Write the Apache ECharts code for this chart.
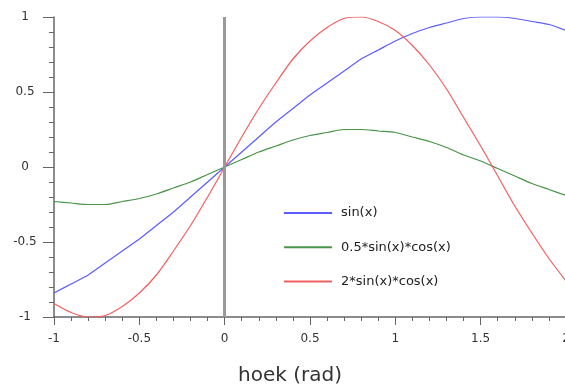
<!DOCTYPE html>
<html><head><meta charset="utf-8">
<script src="https://cdn.jsdelivr.net/npm/echarts@6/dist/echarts.min.js"></script>
<style>html,body{margin:0;padding:0;background:#fff}#c{width:565px;height:385px}</style>
</head><body><div id="c"></div>
<script>
const xs = [-1,-0.9,-0.8,-0.7,-0.6,-0.5,-0.4,-0.3,-0.2,-0.1,0,0.1,0.2,0.3,0.4,0.5,0.6,0.7,0.8,0.9,1.0,1.1,1.2,1.3,1.4,1.5,1.6,1.7,1.8,1.9,2.0];
const sinVals = [-0.84,-0.78,-0.72,-0.64,-0.56,-0.48,-0.39,-0.30,-0.20,-0.10,0,0.10,0.20,0.30,0.39,0.48,0.56,0.64,0.72,0.78,0.84,0.89,0.93,0.96,0.99,1.00,1.00,0.99,0.97,0.95,0.91];
const halfSinCos = [-0.23,-0.24,-0.25,-0.25,-0.23,-0.21,-0.18,-0.14,-0.10,-0.05,0,0.05,0.10,0.14,0.18,0.21,0.23,0.25,0.25,0.24,0.23,0.20,0.17,0.13,0.08,0.04,-0.01,-0.06,-0.11,-0.15,-0.19];
const twoSinCos = [-0.91,-0.97,-1.00,-0.99,-0.93,-0.84,-0.72,-0.56,-0.39,-0.20,0,0.20,0.39,0.56,0.72,0.84,0.93,0.99,1.00,0.97,0.91,0.81,0.68,0.52,0.33,0.14,-0.06,-0.26,-0.44,-0.61,-0.76];
const seriesNames = ['sin(x)','0.5*sin(x)*cos(x)','2*sin(x)*cos(x)'];
const xTitle = 'hoek (rad)';

const pair = ys => xs.map((x,i)=>[x,ys[i]]);
const font = 'DejaVu Sans';
const axisCol = '#666';
const chart = echarts.init(document.getElementById('c'), null, {renderer:'canvas'});
chart.setOption({
  animation:false,
  backgroundColor:'#fff',
  grid:{left:54, top:17, width:512, height:300, outerBoundsMode:'none', containLabel:false},
  legend:{
    orient:'vertical', left:283, top:206.5, padding:0,
    itemWidth:48, itemHeight:14, itemGap:21.3,
    itemStyle:{opacity:0},
    textStyle:{fontFamily:font, fontSize:13, color:'#222', padding:[0,0,0,4]},
    data:seriesNames
  },
  xAxis:{
    type:'value', min:-1, max:2, interval:0.5,
    name:xTitle, nameLocation:'middle', nameGap:49,
    nameTextStyle:{fontFamily:font, fontSize:20, color:'#333', padding:[0,40,0,0]},
    axisLine:{onZero:false, lineStyle:{color:axisCol, width:1.5}},
    axisTick:{show:true, inside:false, length:8, lineStyle:{color:axisCol}},
    minorTick:{show:true, splitNumber:5, length:4, lineStyle:{color:axisCol}},
    axisLabel:{fontFamily:font, fontSize:12, color:'#333', margin:16},
    splitLine:{show:false}
  },
  yAxis:{
    type:'value', min:-1, max:1, interval:0.5,
    axisLine:{show:true, onZero:false, lineStyle:{color:axisCol, width:1.5}},
    axisTick:{show:true, inside:false, length:11, lineStyle:{color:axisCol}},
    minorTick:{show:true, splitNumber:5, length:5, lineStyle:{color:axisCol}},
    axisLabel:{fontFamily:font, fontSize:12, color:'#333', margin:29, align:'center'},
    splitLine:{show:false}
  },
  series:[
    {name:seriesNames[0], type:'line', data:pair(sinVals), smooth:0.3, symbol:'none',
     lineStyle:{color:'#5c5cff', width:1.2}, itemStyle:{color:'#5c5cff'}, z:3,
     markLine:{silent:true, symbol:'none', label:{show:false},
       lineStyle:{color:'#999', width:3, type:'solid'}, data:[{xAxis:0}]}},
    {name:seriesNames[1], type:'line', data:pair(halfSinCos), smooth:0.3, symbol:'none',
     lineStyle:{color:'#4a944a', width:1.2}, itemStyle:{color:'#4a944a'}, z:3},
    {name:seriesNames[2], type:'line', data:pair(twoSinCos), smooth:0.3, symbol:'none',
     lineStyle:{color:'#f06060', width:1.2}, itemStyle:{color:'#f06060'}, z:3}
  ]
});
</script></body></html>
